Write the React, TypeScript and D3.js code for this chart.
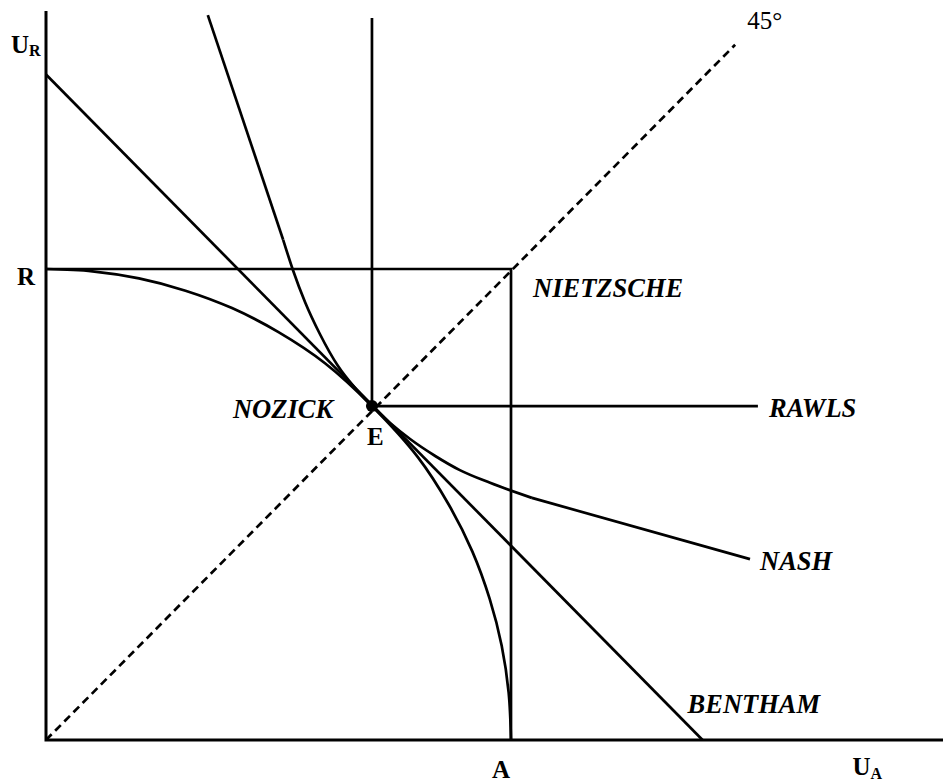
import React from 'react';
import * as d3 from 'd3';

// coordinates are in utility units: R = A = 10
const frontier: [number, number][] = [
  [0, 10], [1, 9.95], [2, 9.8], [3, 9.54], [4, 9.17], [5, 8.66], [6, 8.0],
  [7.01, 7.09], [8, 6.0], [8.66, 5.0], [9.17, 4.0], [9.54, 3.0], [9.8, 2.0],
  [9.95, 1.0], [10, 0],
];
const nashUpper: [number, number][] = [[3.48, 15.39], [5.1, 10.62]];
const nashCurve: [number, number][] = [
  [5.1, 10.62], [5.31, 9.98], [5.57, 9.3], [5.89, 8.62], [6.28, 7.94],
  [6.65, 7.47], [7.01, 7.09], [7.4, 6.73], [7.83, 6.39], [8.37, 6.03],
  [8.9, 5.73], [9.55, 5.46], [10.45, 5.14],
];
const nashLower: [number, number][] = [[10.45, 5.14], [15.14, 3.84]];
const bentham: [number, number][] = [[0, 14.13], [14.12, 0]];
const rawls: [number, number][] = [[7.01, 15.33], [7.01, 7.09], [15.31, 7.09]];
const nietzsche: [number, number][] = [[0, 10], [10, 10], [10, 0]];
const diagonal: [number, number][] = [[0, 0], [14.82, 14.76]];
const axesLine: [number, number][] = [[0, 15.48], [0, 0], [19.3, 0]];
const pointE: [number, number] = [7.01, 7.09];

// label text, anchor point in units, offset in px
const labels = [
  { text: 'NIETZSCHE', at: [10, 10], dx: 22, dy: 28, italic: true },
  { text: 'RAWLS', at: [15.31, 7.09], dx: 11, dy: 11, italic: true },
  { text: 'NASH', at: [15.14, 3.84], dx: 10, dy: 11, italic: true },
  { text: 'BENTHAM', at: [14.12, 0], dx: -15, dy: -27, italic: true },
  { text: 'NOZICK', at: [7.01, 7.09], dx: -139, dy: 12, italic: true },
  { text: 'E', at: [7.01, 7.09], dx: -5, dy: 39, italic: false },
  { text: 'R', at: [0, 10], dx: -29, dy: 16, italic: false },
  { text: 'A', at: [10, 0], dx: -19, dy: 38, italic: false },
];

const W = 943;
const H = 783;

const x = d3.scaleLinear().domain([0, 10]).range([46, 511]);
const y = d3.scaleLinear().domain([0, 10]).range([740, 269]);

const straight = d3.line<[number, number]>().x(d => x(d[0])).y(d => y(d[1]));
const smooth = d3.line<[number, number]>()
  .x(d => x(d[0]))
  .y(d => y(d[1]))
  .curve(d3.curveCatmullRom.alpha(0.5));
const nashLine = d3.line<[number, number]>()
  .x(d => x(d[0]))
  .y(d => y(d[1]))
  .curve(d3.curveMonotoneX);

const FONT = '"Liberation Serif", "Times New Roman", serif';

export default function App() {
  const stroke = { fill: 'none', stroke: '#000', strokeWidth: 2.7 };
  return (
    <svg
      width={W}
      height={H}
      style={{ position: 'absolute', left: 0, top: 0, background: '#fff' }}
      fontFamily={FONT}
    >
      <path d={straight(axesLine) || ''} {...stroke} strokeWidth={3} />
      <path d={straight(diagonal) || ''} {...stroke} strokeDasharray="8,5" />
      <path d={straight(nietzsche) || ''} {...stroke} />
      <path d={straight(rawls) || ''} {...stroke} />
      <path d={straight(bentham) || ''} {...stroke} />
      <path d={smooth(frontier) || ''} {...stroke} />
      <path d={straight(nashUpper) || ''} {...stroke} />
      <path d={nashLine(nashCurve) || ''} {...stroke} />
      <path d={straight(nashLower) || ''} {...stroke} />
      <circle cx={x(pointE[0])} cy={y(pointE[1])} r={6} fill="#000" />

      {labels.map(l => (
        <text
          key={l.text}
          x={x(l.at[0]) + l.dx}
          y={y(l.at[1]) + l.dy}
          fontSize={l.italic ? 26.5 : 25}
          fontWeight="bold"
          fontStyle={l.italic ? 'italic' : 'normal'}
          fill="#000"
        >
          {l.text}
        </text>
      ))}

      {/* axis titles */}
      <text x={x(0) - 35} y={y(15.48) + 42} fontSize={25} fontWeight="bold">
        U<tspan fontSize={16} dy={3}>R</tspan>
      </text>
      <text x={x(19.3) - 91} y={H - 8} fontSize={25} fontWeight="bold">
        U<tspan fontSize={16} dy={4}>A</tspan>
      </text>
      <text x={x(14.82) + 12} y={29} fontSize={25}>45°</text>
    </svg>
  );
}
